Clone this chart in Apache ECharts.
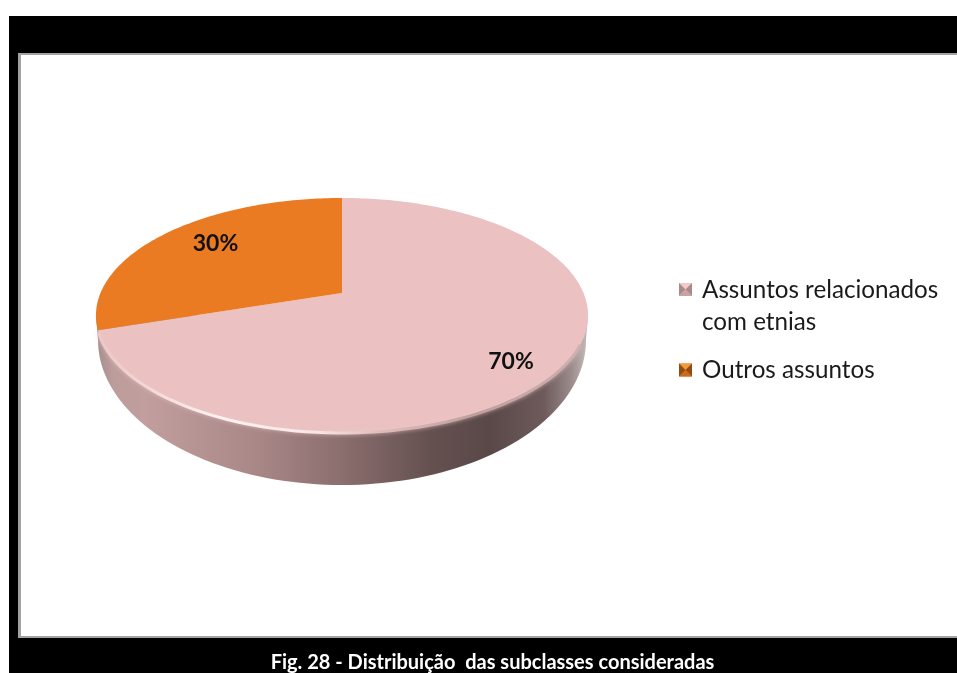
<!DOCTYPE html>
<html>
<head>
<meta charset="utf-8">
<style>html,body{margin:0;padding:0;background:#fff}#c{width:957px;height:673px}</style>
<script src="https://cdn.jsdelivr.net/npm/echarts@6/dist/echarts.min.js"></script>
</head>
<body>
<div id="c"></div>
<script>
const categories = ['Assuntos relacionados\ncom etnias', 'Outros assuntos'];
const values = [70, 30];
const sliceColors = ['#EBC1C1', '#EA7B23'];
const caption = 'Fig. 28 - Distribuição  das subclasses consideradas';

// layout of the tilted disc
const CX = 342, APEX_Y = 293, Y_B = 57.1, PERSP = -0.1915, RADIUS = 241.5;
const LOWER = {cy: 340, rx: 244, ry: 145};
const LABEL_POS = [[511, 362], [215.5, 243.5]];
const FONT = 'Lato, "Open Sans", sans-serif';
const WIDE_R = 101, WIDE_L = 259; // angles at which the face is widest

// unit circle -> screen, angle measured clockwise from twelve o'clock
function project(deg) {
  const a = deg * Math.PI / 180, x = Math.sin(a), t = -Math.cos(a), w = 1 + PERSP * t;
  return [CX + RADIUS * x / w, (APEX_Y + Y_B * t) / w];
}
function arc(from, to, step) {
  const pts = [], n = Math.max(2, Math.ceil(Math.abs(to - from) / (step || 1)));
  for (let i = 0; i <= n; i++) pts.push(project(from + (to - from) * i / n));
  return pts;
}
const total = values.reduce((a, b) => a + b, 0);
function sliceStart(i) {
  let s = 0;
  for (let k = 0; k < i; k++) s += values[k];
  return s / total * 360;
}

function renderRim() {
  const pts = [project(WIDE_L), project(WIDE_R)];
  pts.push([CX + LOWER.rx, LOWER.cy]);
  for (let i = 0; i <= 90; i++) {
    const a = i / 90 * Math.PI;
    pts.push([CX + LOWER.rx * Math.cos(a), LOWER.cy + LOWER.ry * Math.sin(a)]);
  }
  return {
    type: 'polygon', shape: {points: pts}, style: {
      fill: new echarts.graphic.LinearGradient(0, 0, 1, 0, [
        {offset: 0, color: '#a58c8c'},
        {offset: 0.035, color: '#bd9c9c'},
        {offset: 0.10, color: '#c29e9e'},
        {offset: 0.32, color: '#aa8888'},
        {offset: 0.50, color: '#8b6e6e'},
        {offset: 0.68, color: '#655050'},
        {offset: 0.80, color: '#5a4848'},
        {offset: 0.91, color: '#6e5a5a'},
        {offset: 0.965, color: '#9a8a8a'},
        {offset: 1, color: '#c8bcbc'}
      ])
    }
  };
}

function renderBevel() {
  return {
    type: 'polyline', shape: {points: arc(WIDE_L - 8, WIDE_R + 14, 2)}, style: {
      fill: null, lineWidth: 3, shadowBlur: 4, shadowColor: 'rgba(235,200,200,0.8)',
      stroke: new echarts.graphic.LinearGradient(0, 0, 1, 0, [
        {offset: 0, color: '#ecc6c6'},
        {offset: 0.10, color: '#f3d6d6'},
        {offset: 0.25, color: '#fff2f2'},
        {offset: 0.45, color: '#fbe6e6'},
        {offset: 0.58, color: '#e2bcbc'},
        {offset: 0.78, color: '#c09e9e'},
        {offset: 1, color: '#d0b0b0'}
      ])
    }
  };
}

function renderSlice(i) {
  return function (params, api) {
    const v = api.value(0);
    const start = sliceStart(i), sweep = v / total * 360;
    const pts = [[CX, APEX_Y]].concat(arc(start, start + sweep, 1));
    return {
      type: 'group',
      children: [
        {type: 'polygon', shape: {points: pts}, style: {fill: sliceColors[i]}},
        {type: 'text', z2: 20, x: LABEL_POS[i][0], y: LABEL_POS[i][1], style: {
          text: v + '%', fill: '#111', fontFamily: 'Lato', fontWeight: 700, fontSize: 23,
          align: 'center', verticalAlign: 'middle'
        }}
      ]
    };
  };
}

// the bevelled look of the legend keys
function bevel(x, y, s, light, dark, low) {
  const c = [x + s / 2, y + s / 2];
  const tri = (pts, fill) => ({type: 'polygon', z: 50, silent: true, shape: {points: pts}, style: {fill}});
  return [
    tri([[x, y], [x + s, y], c], light),
    tri([[x, y], [x, y + s], c], dark),
    tri([[x + s, y], [x + s, y + s], c], dark),
    tri([[x, y + s], [x + s, y + s], c], low)
  ];
}

const chart = echarts.init(document.getElementById('c'), null, {renderer: 'canvas'});
const legendText = {fontFamily: FONT, fontSize: 24.2, color: '#1a1a1a', lineHeight: 32};
chart.setOption({
  animation: false,
  backgroundColor: '#fff',
  legend: [
    {
      data: [{name: categories[0], icon: 'path://M0 0H13V13H0Z M18 46H18.01V46.01H18Z'}],
      left: 679, top: 274, orient: 'vertical', itemWidth: 18, itemHeight: 46,
      itemGap: 0, padding: 0, selectedMode: false, textStyle: legendText
    },
    {
      data: [{name: categories[1], icon: 'path://M0 0H13V13H0Z M18 13H18.01V13.01H18Z'}],
      left: 679, top: 354, orient: 'vertical', itemWidth: 18, itemHeight: 13,
      itemGap: 0, padding: 0, selectedMode: false, textStyle: legendText
    }
  ],
  graphic: [
    {type: 'rect', z: -10, silent: true, shape: {x: 9, y: 16, width: 948, height: 657}, style: {fill: '#000'}},
    {type: 'rect', z: -9, silent: true, shape: {x: 18, y: 53, width: 939, height: 585}, style: {fill: '#a3a3a3'}},
    {type: 'rect', z: -8, silent: true, shape: {x: 21, y: 55, width: 936, height: 581}, style: {fill: '#fff'}},
    {type: 'text', z: 10, silent: true, x: 492.5, y: 663, style: {
      text: caption, fill: '#fff', fontFamily: 'Lato', fontWeight: 700, fontSize: 20,
      align: 'center', verticalAlign: 'middle'
    }}
  ].concat(
    bevel(679, 283, 13, '#f3c9c9', '#a98a8a', '#c9a3a3'),
    bevel(679, 363.5, 13, '#f49a3e', '#8f4d14', '#c96a1c')
  ),
  series: [
    {type: 'custom', name: 'base', coordinateSystem: 'none', silent: true, data: [[total]], renderItem: renderRim, z: 1},
    {type: 'custom', name: categories[0], coordinateSystem: 'none', silent: true, data: [[values[0]]],
      itemStyle: {color: sliceColors[0]}, renderItem: renderSlice(0), z: 2},
    {type: 'custom', name: categories[1], coordinateSystem: 'none', silent: true, data: [[values[1]]],
      itemStyle: {color: sliceColors[1]}, renderItem: renderSlice(1), z: 3},
    {type: 'custom', name: 'bevel', coordinateSystem: 'none', silent: true, data: [[total]], renderItem: renderBevel, z: 4}
  ]
});
</script>
</body>
</html>
